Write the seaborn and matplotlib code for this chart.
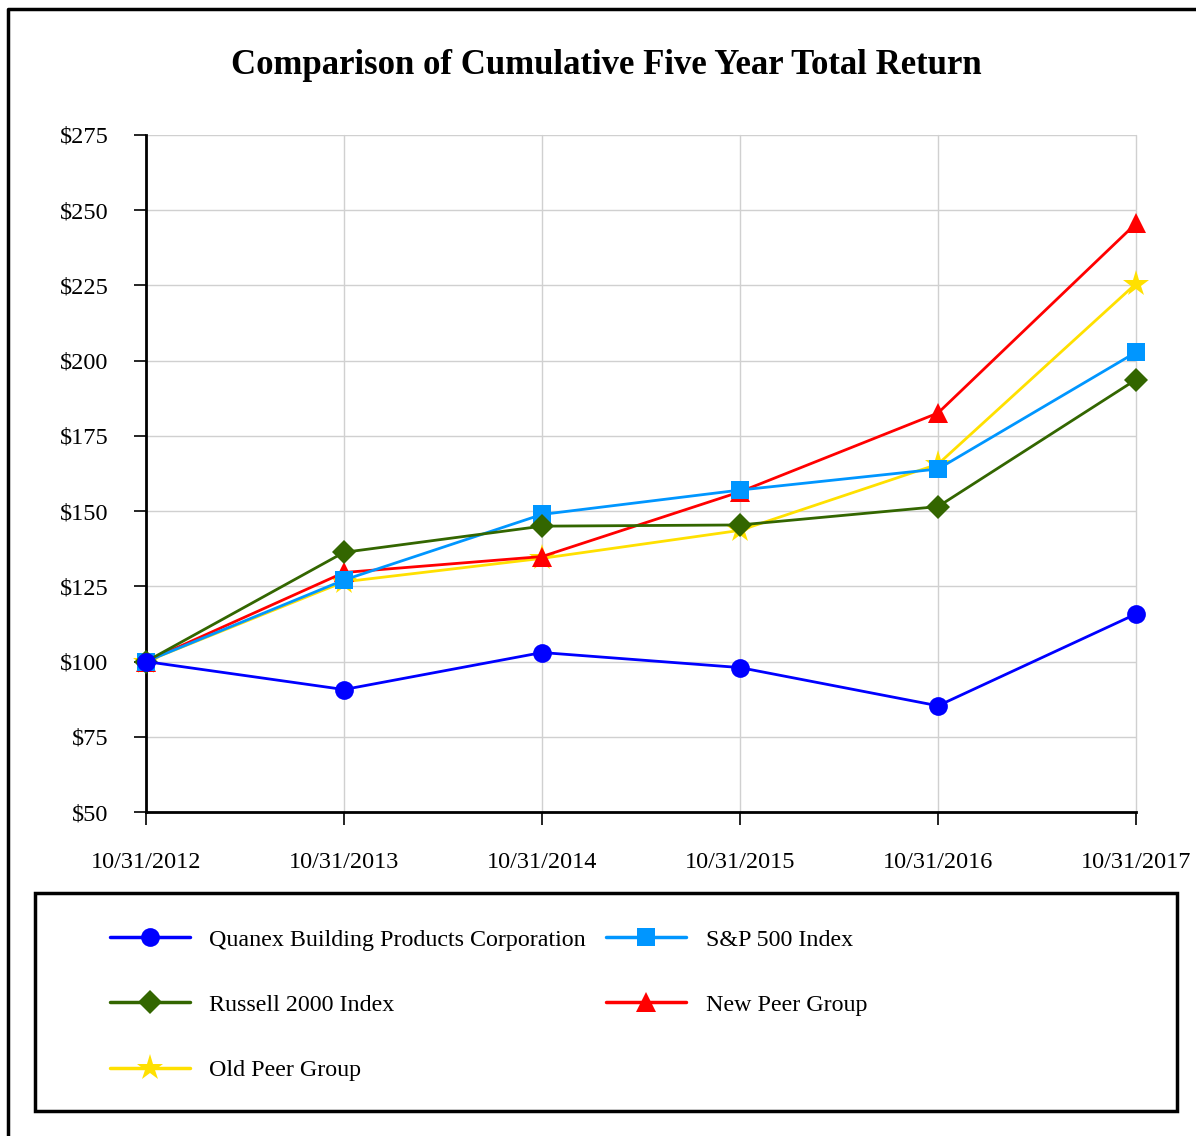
import seaborn as sns
import matplotlib.pyplot as plt
import pandas as pd
from matplotlib.patches import Rectangle
from matplotlib.lines import Line2D

# Dados
datas = ["10/31/2012", "10/31/2013", "10/31/2014", "10/31/2015", "10/31/2016", "10/31/2017"]
quanex = [100, 90.7, 103.0, 98.0, 85.3, 115.8]
sp500 = [100, 127.1, 148.9, 157.0, 164.0, 202.8]
russell = [100, 136.3, 145.0, 145.4, 151.5, 193.7]
new_peer = [100, 129.6, 134.9, 156.4, 182.6, 245.6]
old_peer = [100, 126.5, 134.3, 143.6, 165.6, 225.6]

series = {
    "Quanex Building Products Corporation": quanex,
    "S&P 500 Index": sp500,
    "Russell 2000 Index": russell,
    "New Peer Group": new_peer,
    "Old Peer Group": old_peer,
}
estilos = {
    "Quanex Building Products Corporation": ("#0000FF", "o", 13.5, 6),
    "S&P 500 Index": ("#0096FF", "s", 12.5, 4),
    "Russell 2000 Index": ("#336600", "D", 12.5, 5),
    "New Peer Group": ("#FF0000", "^", 14, 3),
    "Old Peer Group": ("#FFE000", "*", 20, 2),
}

linhas = []
for nome, valores in series.items():
    for i, v in enumerate(valores):
        linhas.append({"pos": i, "Serie": nome, "Valor": v})
df = pd.DataFrame(linhas)

sns.set_style("white")
plt.rcParams["font.family"] = ["Liberation Serif", "DejaVu Serif"]
plt.rcParams["text.color"] = "black"
plt.rcParams["xtick.color"] = "black"
plt.rcParams["ytick.color"] = "black"

fig = plt.figure(figsize=(11.96, 11.36), dpi=100)
ax = fig.add_axes([146 / 1196, 1 - 812 / 1136, (1136 - 146) / 1196, (812 - 135) / 1136])

for nome in series:
    cor, marca, tam, z = estilos[nome]
    sub = df[df["Serie"] == nome]
    sns.lineplot(data=sub, x="pos", y="Valor", ax=ax, color=cor, marker=marca,
                 markersize=tam, markeredgewidth=0, linewidth=2, zorder=z,
                 clip_on=False, legend=False)

ax.set_xlim(0, 5)
ax.set_ylim(50, 275)
ax.set_xticks(range(len(datas)))
ax.set_xticklabels(datas)
yt = list(range(50, 276, 25))
ax.set_yticks(yt)
ax.set_yticklabels([f"${v}" for v in yt])
ax.set_xlabel("")
ax.set_ylabel("")
ax.grid(True, color="#d0d0d0", linewidth=1)
for gl in ax.get_xgridlines():
    gl.set_clip_on(False)
for s in ["top", "right"]:
    ax.spines[s].set_visible(False)
for s in ["left", "bottom"]:
    ax.spines[s].set_color("black")
    ax.spines[s].set_linewidth(2)
ax.tick_params(axis="both", which="major", direction="out", length=9, width=1.2,
               color="black", labelcolor="black", labelsize=17.5, pad=18,
               left=True, bottom=True)
ax.tick_params(axis="x", pad=19.5)

fig.text(606 / 1196, 1 - 65 / 1136, "Comparison of Cumulative Five Year Total Return",
         ha="center", va="center", fontsize=25, fontweight="bold")

# Legenda
ordem = ["Quanex Building Products Corporation", "Russell 2000 Index", "Old Peer Group",
         "S&P 500 Index", "New Peer Group"]
handles = []
for nome in ordem:
    cor, marca, tam, z = estilos[nome]
    handles.append(Line2D([], [], color=cor, marker=marca, markersize=tam,
                          markeredgewidth=0, linewidth=2.5))
fig.legend(handles, ordem, ncol=2, loc="upper left",
           bbox_to_anchor=(110 / 1196, 1 - 929 / 1136), frameon=False,
           fontsize=17.3, handlelength=3.33, handletextpad=0.8, columnspacing=0.85,
           labelspacing=1.8, borderpad=0, borderaxespad=0)

fig.patches.append(Rectangle((35 / 1196, 1 - 1111 / 1136), (1177 - 35) / 1196,
                             (1111 - 893) / 1136, transform=fig.transFigure,
                             fill=False, edgecolor="black", linewidth=2.5))
fig.lines.append(Line2D([8 / 1196, 8 / 1196, 1], [0, 1 - 9 / 1136, 1 - 9 / 1136],
                        transform=fig.transFigure, color="black", linewidth=2.5))

plt.savefig("out.png", dpi=100)
